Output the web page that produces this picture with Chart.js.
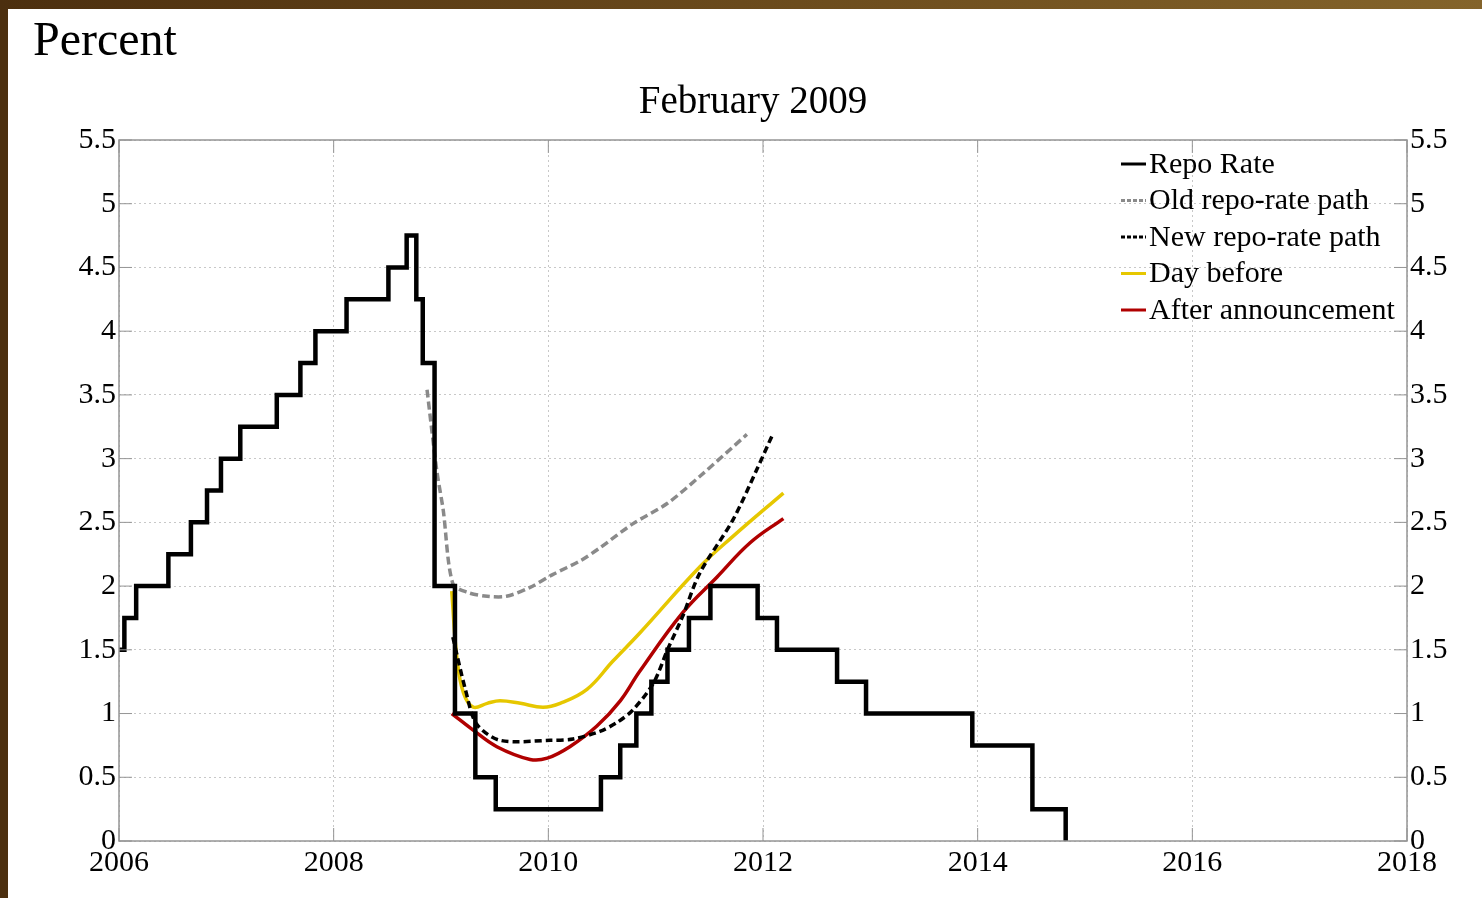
<!DOCTYPE html>
<html>
<head>
<meta charset="utf-8">
<script src="https://cdn.jsdelivr.net/npm/chart.js@4/dist/chart.umd.min.js"></script>
<style>
  html, body { margin: 0; padding: 0; background: #fff; }
  #wrap { position: relative; width: 1482px; height: 898px; overflow: hidden; }
  #leftBar { position: absolute; left: 0; top: 0; width: 8px; height: 898px; background: #4c2f0f; z-index: 2; }
  #topBar { position: absolute; left: 0; top: 0; width: 1482px; height: 9px; background: linear-gradient(to right, #4c2f0f, #6a4a1c 50%, #84642b); z-index: 2; }
  canvas { position: absolute; left: 0; top: 0; }
</style>
</head>
<body>
<div id="wrap">
  <div id="leftBar"></div>
  <div id="topBar"></div>
  <canvas id="chart" width="1482" height="898"></canvas>
</div>
<script>
// Repo rate: date of each change (decimal year) and the new rate
const repoDates = [2006.0, 2006.05, 2006.16, 2006.46, 2006.67, 2006.82, 2006.95, 2007.13, 2007.47, 2007.69, 2007.83,
  2008.12, 2008.51, 2008.68, 2008.77, 2008.83, 2008.94, 2009.13, 2009.32, 2009.51, 2010.49, 2010.67, 2010.82,
  2010.96, 2011.11, 2011.31, 2011.51, 2011.95, 2012.13, 2012.69, 2012.96, 2013.95, 2014.51, 2014.82];
const repoRates = [1.5, 1.75, 2.0, 2.25, 2.5, 2.75, 3.0, 3.25, 3.5, 3.75, 4.0,
  4.25, 4.5, 4.75, 4.25, 3.75, 2.0, 1.0, 0.5, 0.25, 0.5, 0.75, 1.0,
  1.25, 1.5, 1.75, 2.0, 1.75, 1.5, 1.25, 1.0, 0.75, 0.25, 0.0];

// Old repo-rate path
const oldDates = [2008.87, 2008.96, 2009.02, 2009.11, 2009.25, 2009.43, 2009.61, 2009.83, 2010.04, 2010.30, 2010.48, 2010.79, 2011.11, 2011.41, 2011.85];
const oldRates = [3.54, 2.91, 2.6, 2.02, 1.95, 1.92, 1.92, 1.99, 2.09, 2.2, 2.3, 2.49, 2.65, 2.86, 3.19];

// New repo-rate path
const newDates = [2009.11, 2009.23, 2009.33, 2009.55, 2010.02, 2010.23, 2010.48, 2010.64, 2010.79, 2010.98, 2011.11, 2011.25, 2011.41, 2011.72, 2011.94, 2012.09];
const newRates = [1.6, 1.18, 0.92, 0.79, 0.79, 0.8, 0.86, 0.93, 1.03, 1.24, 1.5, 1.76, 2.1, 2.52, 2.91, 3.19];

// Market expectations, day before
const beforeDates = [2009.10, 2009.15, 2009.21, 2009.30, 2009.43, 2009.55, 2009.74, 2009.95, 2010.11, 2010.36, 2010.60, 2010.85, 2011.41, 2011.72, 2012.19];
const beforeRates = [1.96, 1.42, 1.16, 1.05, 1.08, 1.1, 1.08, 1.05, 1.08, 1.19, 1.41, 1.63, 2.15, 2.39, 2.73];

// Market expectations, after announcement
const afterDates = [2009.10, 2009.30, 2009.52, 2009.83, 2009.99, 2010.20, 2010.45, 2010.67, 2010.85, 2011.25, 2011.57, 2011.88, 2012.19];
const afterRates = [1.0, 0.87, 0.74, 0.64, 0.65, 0.74, 0.9, 1.1, 1.33, 1.79, 2.07, 2.34, 2.53];

const xTicks = [2006, 2008, 2010, 2012, 2014, 2016, 2018];
const yTicks = [0, 0.5, 1, 1.5, 2, 2.5, 3, 3.5, 4, 4.5, 5, 5.5];

const serif = 'Liberation Serif, "Times New Roman", serif';

function pts(xs, ys) {
  return xs.map((x, i) => ({ x: x, y: ys[i] }));
}

const frameColor = '#959595';

// frame, inner tick marks, legend and titles
const decorPlugin = {
  id: 'decor',
  afterDraw(chart) {
    const ctx = chart.ctx;
    const a = chart.chartArea;
    const xs = chart.scales.x;
    const ys = chart.scales.y;
    ctx.save();
    ctx.strokeStyle = frameColor;
    ctx.lineWidth = 1.5;
    ctx.strokeRect(a.left, a.top, a.right - a.left, a.bottom - a.top);

    ctx.lineWidth = 1;
    xTicks.forEach(v => {
      const px = xs.getPixelForValue(v);
      ctx.beginPath();
      ctx.moveTo(px, a.bottom); ctx.lineTo(px, a.bottom - 13);
      ctx.moveTo(px, a.top); ctx.lineTo(px, a.top + 13);
      ctx.stroke();
    });
    yTicks.forEach(v => {
      const py = ys.getPixelForValue(v);
      ctx.beginPath();
      ctx.moveTo(a.left, py); ctx.lineTo(a.left + 13, py);
      ctx.moveTo(a.right, py); ctx.lineTo(a.right - 13, py);
      ctx.stroke();
    });

    // legend
    ctx.font = '30px ' + serif;
    ctx.textBaseline = 'middle';
    ctx.textAlign = 'left';
    chart.data.datasets.forEach((ds, i) => {
      const y = 164 + i * 36.5;
      ctx.strokeStyle = ds.borderColor;
      ctx.lineWidth = 3;
      ctx.setLineDash(ds.borderDash && ds.borderDash.length ? [4, 2] : []);
      ctx.beginPath();
      ctx.moveTo(1121, y);
      ctx.lineTo(1146, y);
      ctx.stroke();
      ctx.setLineDash([]);
      ctx.fillStyle = '#000';
      ctx.fillText(ds.label, 1149, y + 1);
    });

    // titles
    ctx.textBaseline = 'alphabetic';
    ctx.fillStyle = '#000';
    ctx.font = '48px ' + serif;
    ctx.fillText('Percent', 33, 55);
    ctx.font = '39px ' + serif;
    ctx.textAlign = 'center';
    ctx.fillText('February 2009', 753, 113);
    ctx.restore();
  }
};

const tickFont = { family: serif, size: 30 };

new Chart(document.getElementById('chart'), {
  type: 'line',
  data: {
    datasets: [
      {
        label: 'Repo Rate',
        data: pts(repoDates, repoRates),
        borderColor: '#000000',
        borderWidth: 4.5,
        stepped: true,
        pointRadius: 0
      },
      {
        label: 'Old repo-rate path',
        data: pts(oldDates, oldRates),
        borderColor: '#8a8a8a',
        borderWidth: 3.5,
        borderDash: [8, 4],
        tension: 0.3,
        pointRadius: 0
      },
      {
        label: 'New repo-rate path',
        data: pts(newDates, newRates),
        borderColor: '#000000',
        borderWidth: 3.5,
        borderDash: [7, 4],
        tension: 0.3,
        pointRadius: 0
      },
      {
        label: 'Day before',
        data: pts(beforeDates, beforeRates),
        borderColor: '#e6c700',
        borderWidth: 3.5,
        tension: 0.4,
        pointRadius: 0
      },
      {
        label: 'After announcement',
        data: pts(afterDates, afterRates),
        borderColor: '#b00000',
        borderWidth: 3.5,
        tension: 0.4,
        pointRadius: 0
      }
    ]
  },
  options: {
    responsive: false,
    animation: false,
    events: [],
    layout: { padding: { top: 140, left: 0, right: 0, bottom: 0 } },
    plugins: {
      legend: { display: false },
      title: { display: false },
      tooltip: { enabled: false }
    },
    scales: {
      x: {
        type: 'linear',
        min: 2006,
        max: 2018,
        afterFit: s => { s.height = 57; },
        afterBuildTicks: s => { s.ticks = xTicks.map(v => ({ value: v })); },
        ticks: {
          font: tickFont,
          color: '#000',
          padding: 4,
          maxRotation: 0,
          callback: v => String(v)
        },
        grid: { color: '#c8c8c8', lineWidth: 1, drawTicks: false },
        border: { display: false, dash: [2, 3] }
      },
      y: {
        position: 'left',
        min: 0,
        max: 5.5,
        afterFit: s => { s.width = 119; },
        afterBuildTicks: s => { s.ticks = yTicks.map(v => ({ value: v })); },
        ticks: {
          font: tickFont,
          color: '#000',
          padding: 3,
          callback: v => String(v)
        },
        grid: { color: '#c8c8c8', lineWidth: 1, drawTicks: false },
        border: { display: false, dash: [2, 3] }
      },
      y2: {
        position: 'right',
        min: 0,
        max: 5.5,
        afterFit: s => { s.width = 75; },
        afterBuildTicks: s => { s.ticks = yTicks.map(v => ({ value: v })); },
        ticks: {
          font: tickFont,
          color: '#000',
          padding: 3,
          callback: v => String(v)
        },
        grid: { display: false, drawTicks: false },
        border: { display: false }
      }
    }
  },
  plugins: [decorPlugin]
});
</script>
</body>
</html>
